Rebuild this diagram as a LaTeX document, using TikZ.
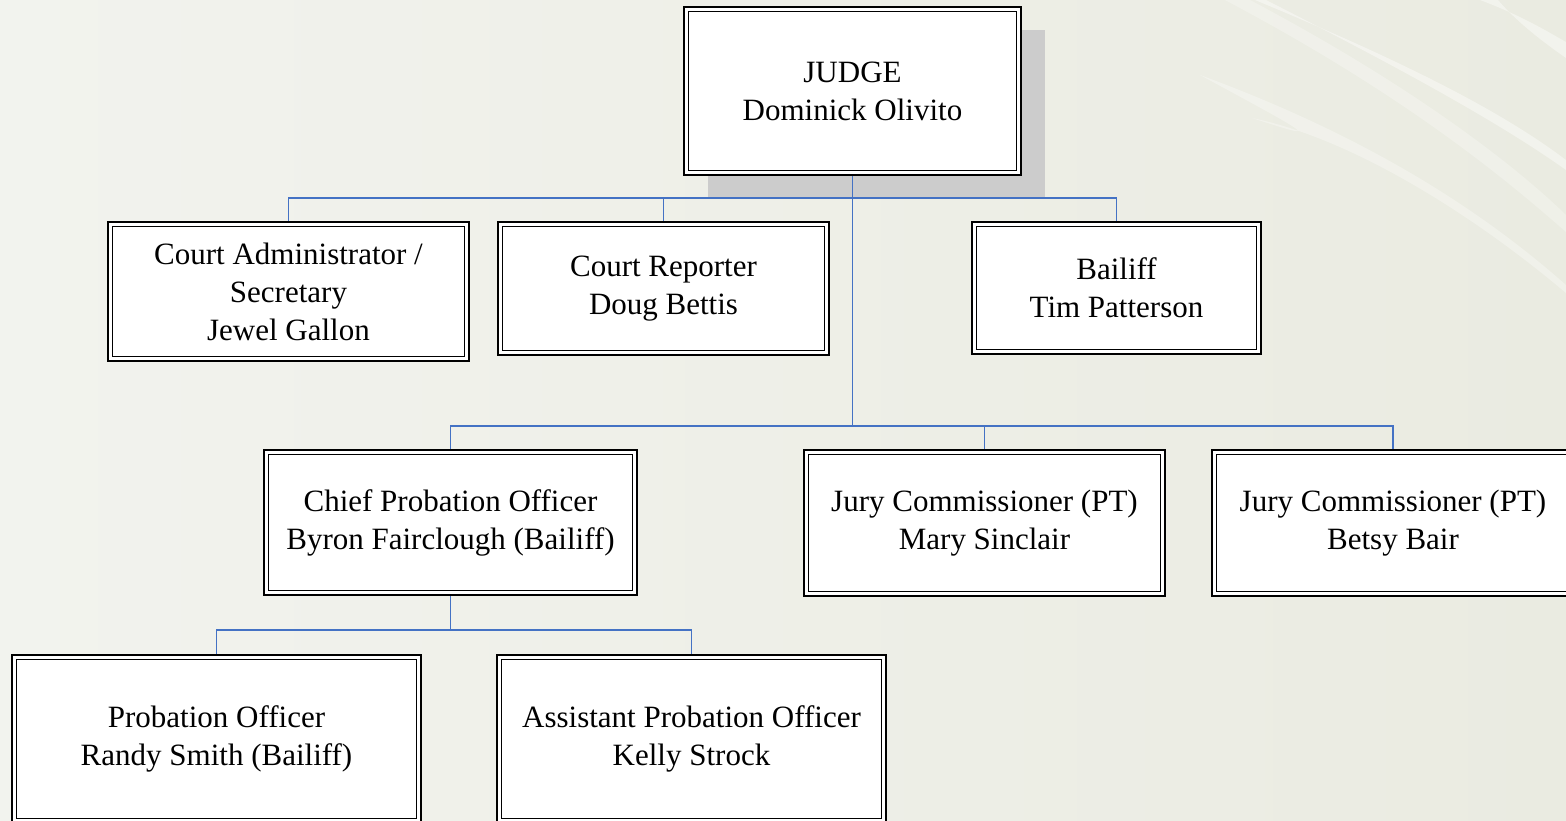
\documentclass[tikz,border=0pt]{standalone}
\usepackage{fontspec}
\setmainfont{Liberation Serif}
\usetikzlibrary{shadows}
\definecolor{bgl}{HTML}{F2F3EE}
\definecolor{bgr}{HTML}{EAEBE1}
\definecolor{shadowgray}{HTML}{CCCCCC}
\definecolor{connblue}{HTML}{4472C4}
\tikzset{
  orgbox/.style={draw=black, line width=1pt, fill=white, align=center,
    font=\fontsize{15.5}{19}\selectfont, inner sep=0pt,
    path picture={\draw[line width=0.5pt]
      ([shift={(2.3pt,2.3pt)}]path picture bounding box.south west) rectangle
      ([shift={(-2.3pt,-2.3pt)}]path picture bounding box.north east);}},
  conn/.style={draw=connblue, line width=0.75pt},
  swoosh/.style={fill=white, opacity=0.4, draw=none}
}
\begin{document}
\begin{tikzpicture}[x=0.5pt,y=-0.5pt]
\useasboundingbox (0,0) rectangle (1566,820);
\shade[left color=bgl, right color=bgr] (0,0) rectangle (1566,820);
% background swooshes
\fill[swoosh] (1255,0) .. controls (1400,60) and (1500,110) .. (1566,160)
  -- (1566,170) .. controls (1500,123) and (1400,68) .. (1266,0) -- cycle;
\fill[swoosh] (1480,0) .. controls (1520,15) and (1545,30) .. (1566,42)
  -- (1566,58) .. controls (1540,40) and (1515,20) .. (1498,0) -- cycle;
\fill[swoosh, opacity=0.3] (1200,75) .. controls (1350,130) and (1470,200) .. (1566,285)
  -- (1566,293) .. controls (1470,212) and (1350,138) .. (1252,118) .. controls (1320,140) .. (1200,75) -- cycle;
\fill[swoosh, opacity=0.25] (1250,0) .. controls (1420,90) and (1520,170) .. (1566,215)
  -- (1566,232) .. controls (1510,183) and (1410,98) .. (1225,0) -- cycle;

% nodes
\node[orgbox, minimum width=168.5pt, minimum height=84pt,
  general shadow={fill=shadowgray, shadow xshift=12pt, shadow yshift=-11.5pt}]
  (judge) at (852.5,91) {JUDGE\\Dominick Olivito};
\node[orgbox, minimum width=180.5pt, minimum height=69.5pt] (admin) at (288.5,291.5)
  {Court Administrator /\\Secretary\\Jewel Gallon};
\node[orgbox, minimum width=165.5pt, minimum height=66.5pt] (reporter) at (663.5,288.5)
  {Court Reporter\\Doug Bettis};
\node[orgbox, minimum width=144.5pt, minimum height=66pt] (bailiff) at (1116.5,288)
  {Bailiff\\Tim Patterson};
\node[orgbox, minimum width=186.5pt, minimum height=72.5pt] (chief) at (450.5,522.5)
  {Chief Probation Officer\\Byron Fairclough (Bailiff)};
\node[orgbox, minimum width=180.5pt, minimum height=73pt] (mary) at (984.5,523)
  {Jury Commissioner (PT)\\Mary Sinclair};
\node[orgbox, minimum width=181pt, minimum height=73pt] (betsy) at (1393,523)
  {Jury Commissioner (PT)\\Betsy Bair};
\node[orgbox, minimum width=204.5pt, minimum height=84pt] (prob) at (216.5,739)
  {Probation Officer\\Randy Smith (Bailiff)};
\node[orgbox, minimum width=194.5pt, minimum height=84pt] (asst) at (691.5,739)
  {Assistant Probation Officer\\Kelly Strock};

% connectors
\draw[conn] (admin.north) -- ++(0,-23) -| (judge.south);
\draw[conn] (reporter.north) -- ++(0,-23) -| (judge.south);
\draw[conn] (bailiff.north) -- ++(0,-23) -| (judge.south);
\draw[conn] (chief.north) -- ++(0,-23) -| (judge.south);
\draw[conn] (mary.north) -- ++(0,-23) -| (judge.south);
\draw[conn] (betsy.north) -- ++(0,-23) -| (judge.south);
\draw[conn] (prob.north) -- ++(0,-24) -| (chief.south);
\draw[conn] (asst.north) -- ++(0,-24) -| (chief.south);
\end{tikzpicture}
\end{document}
